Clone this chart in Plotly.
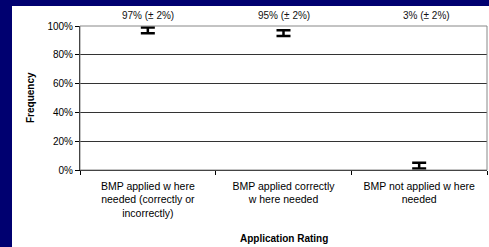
import plotly.graph_objects as go

categories = ["BMP applied w here<br>needed (correctly or<br>incorrectly)",
              "BMP applied correctly<br>w here needed",
              "BMP not applied w here<br>needed"]
values = [97, 95, 3]
errors = [2, 2, 2]
labels = ["97% (± 2%)", "95% (± 2%)", "3% (± 2%)"]
y_ticks = [0, 20, 40, 60, 80, 100]
y_tick_text = ["0%", "20%", "40%", "60%", "80%", "100%"]

FONT = "Liberation Sans, Arial, sans-serif"
W, H = 489, 247
L, R, T, B = 80, 2, 26, 77
PW, PH = W - L - R, H - T - B

def px_x(p):
    return (p - L) / PW

def px_y(p):
    return 1 - (p - T) / PH

fig = go.Figure()
fig.add_trace(go.Scatter(
    x=categories, y=values, mode="markers",
    marker=dict(size=1, color="rgba(0,0,0,0)"),
    error_y=dict(type="data", array=errors, visible=True,
                 color="black", thickness=2.5, width=7),
    showlegend=False, hoverinfo="skip"))

for c, lab, dx in zip(categories, labels, [0, 0, 7]):
    fig.add_annotation(x=c, y=px_y(15), xref="x", yref="paper", text=lab,
                       showarrow=False, xshift=dx, yanchor="middle",
                       font=dict(family=FONT, size=10, color="#111"))

fig.add_annotation(x=px_x(30), y=0.5, xref="paper", yref="paper",
                   text="<b>Frequency</b>", textangle=-90, showarrow=False,
                   xanchor="center", yanchor="middle",
                   font=dict(family=FONT, size=10, color="black"))
fig.add_annotation(x=0.5, y=px_y(238), xref="paper", yref="paper",
                   text="<b>Application Rating</b>", showarrow=False,
                   xanchor="center", yanchor="middle",
                   font=dict(family=FONT, size=10, color="black"))

# white slide panel over navy background
fig.add_shape(type="rect", xref="paper", yref="paper", layer="below",
              x0=px_x(12), x1=px_x(W + 10),
              y0=px_y(H + 10), y1=px_y(6),
              fillcolor="white", line=dict(width=0))
# plot area border
fig.add_shape(type="rect", xref="paper", yref="paper",
              x0=0, x1=1, y0=0, y1=1, line=dict(color="#888", width=1))

fig.update_layout(
    width=W, height=H,
    margin=dict(l=L, r=R, t=T, b=B, autoexpand=False),
    paper_bgcolor="#000070", plot_bgcolor="white",
    font=dict(family=FONT, size=10, color="black"),
    xaxis=dict(type="category", tickson="boundaries", ticks="outside",
               ticklen=4, tickcolor="black", showgrid=False,
               showline=True, linecolor="black", linewidth=1,
               range=[-0.5, 2.5], automargin=False, ticklabelstandoff=6,
               tickfont=dict(family=FONT, size=10.5, color="black")),
    yaxis=dict(range=[0, 100], tickvals=y_ticks, ticktext=y_tick_text,
               ticks="outside", ticklen=4, tickcolor="black",
               showgrid=True, gridcolor="#333", gridwidth=1,
               showline=True, linecolor="black", linewidth=1,
               zeroline=False, automargin=False,
               tickfont=dict(family=FONT, size=10, color="black")),
)

fig.write_html("out.html",
               config={"displayModeBar": False},
               post_script="document.body.style.margin='0';"
                           "document.body.style.padding='0';")
